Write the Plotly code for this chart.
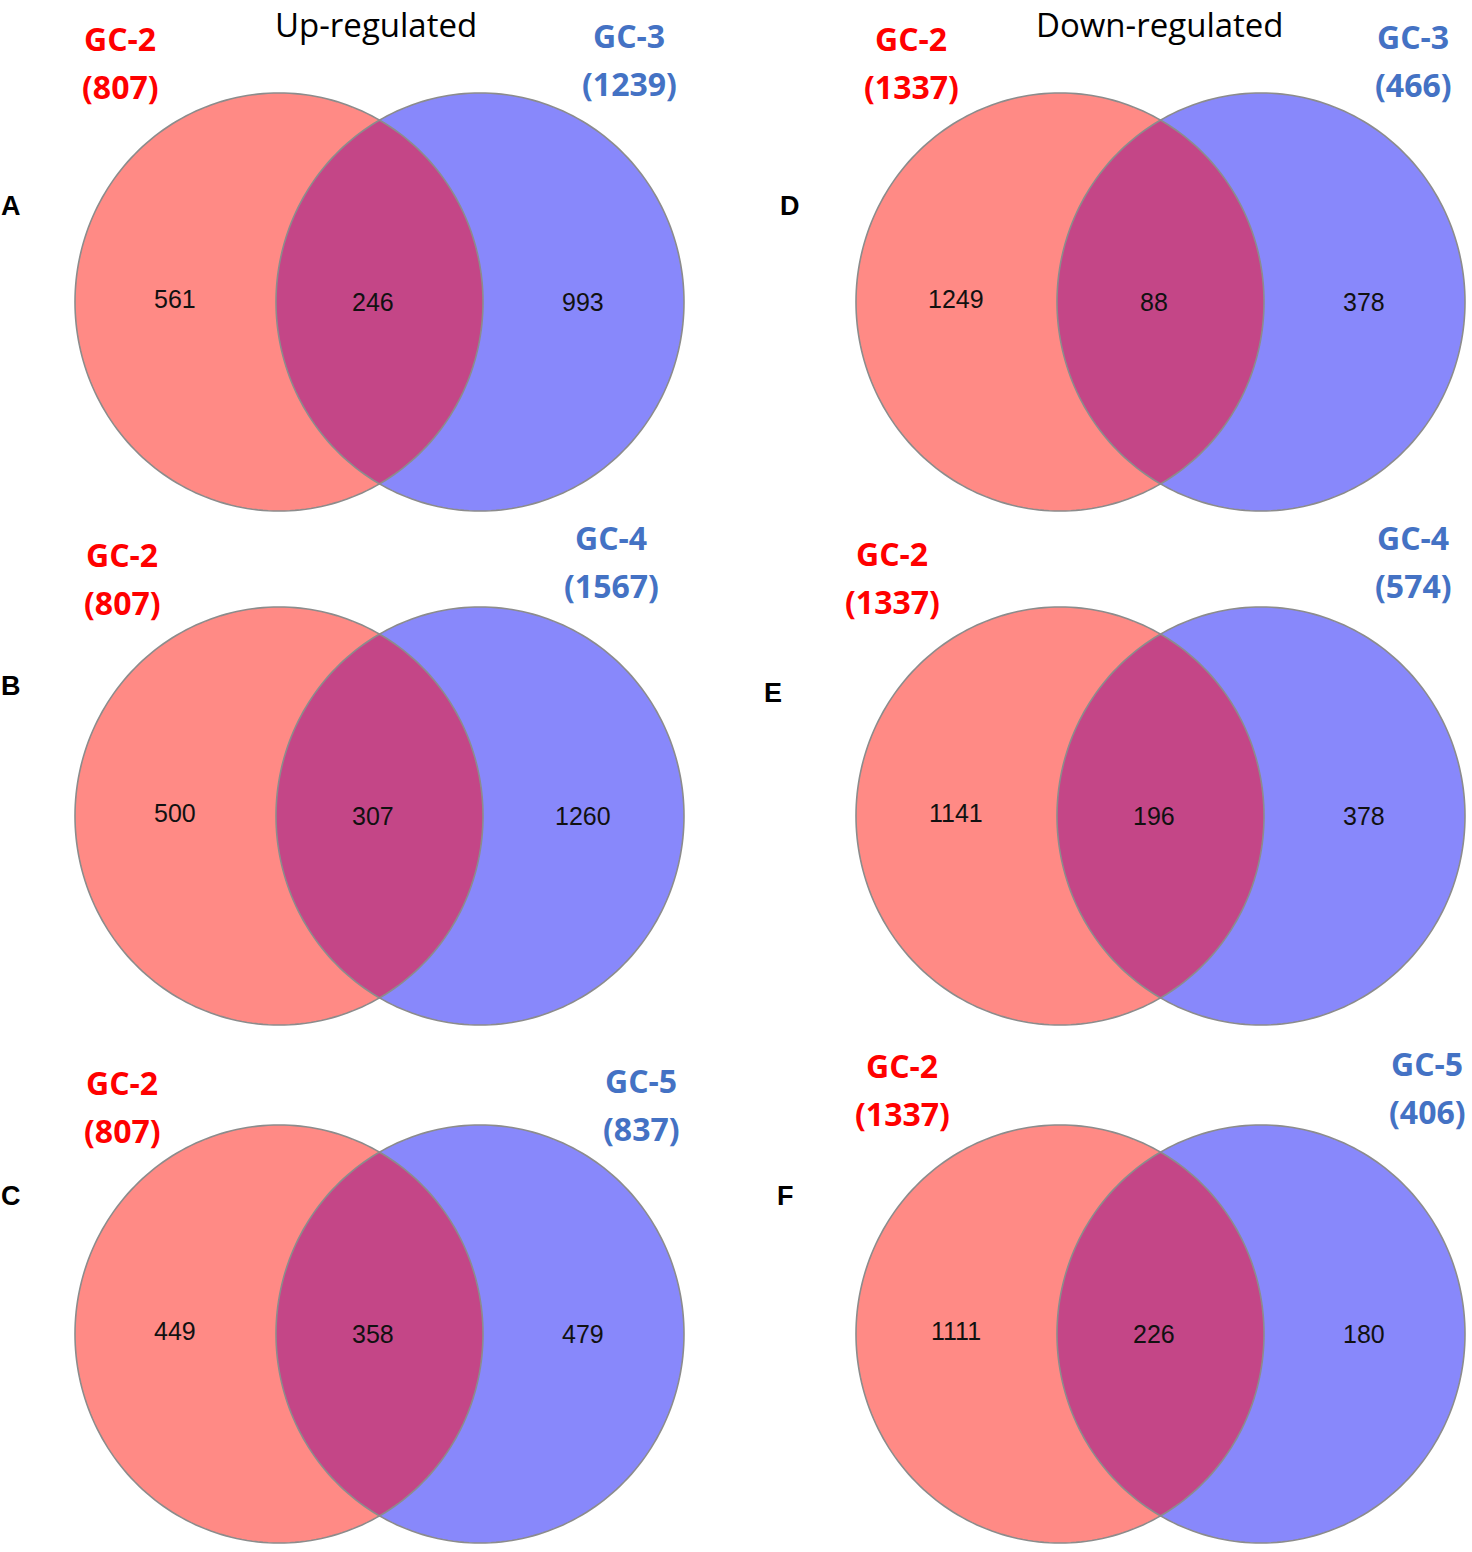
"""Six two-set Venn diagrams: GC-2 against GC-3/4/5, up- and down-regulated genes."""
import numpy as np
import plotly.graph_objects as go

# ---- data ----
PANELS = ["A", "B", "C", "D", "E", "F"]
TITLES = ["Up-regulated", "Down-regulated"]
LEFT_SET = ["GC-2", "GC-2", "GC-2", "GC-2", "GC-2", "GC-2"]
RIGHT_SET = ["GC-3", "GC-4", "GC-5", "GC-3", "GC-4", "GC-5"]
LEFT_ONLY = [561, 500, 449, 1249, 1141, 1111]
SHARED = [246, 307, 358, 88, 196, 226]
RIGHT_ONLY = [993, 1260, 479, 378, 378, 180]

# ---- layout (pixel space, y down) ----
W, H = 1472, 1552
COL_X = [279, 1060]          # centre of the left circle in each column
ROW_Y = [302, 816, 1334]     # circle centre row
SEP = 201                    # distance between circle centres
RX, RY = 204, 209
TITLE_POS = [(376, 0), (1160, 0)]
LEFT_LBL = [(120, 38), (122, 554), (122, 1082), (911, 38), (892, 553), (902, 1065)]
RIGHT_LBL = [(629, 35), (611, 537), (641, 1080), (1413, 36), (1413, 537), (1427, 1063)]
LETTER_POS = [(11, 206), (11, 686), (11, 1196), (790, 206), (773, 693), (785, 1196)]
LINE_GAP = 48

RED_FILL = "#FF8A85"
BLUE_FILL = "#8888FB"
MIX_FILL = "#C44687"
EDGE = "#8C8C8C"
RED_TXT = "#FF0000"
BLUE_TXT = "#4472C4"


def ellipse_path(cx, cy, t):
    xs = cx + RX * np.cos(t)
    ys = cy + RY * np.sin(t)
    return xs, ys


def to_path(xs, ys):
    pts = [f"{x:.2f},{y:.2f}" for x, y in zip(xs, ys)]
    return "M " + " L ".join(pts) + " Z"


fig = go.Figure()
shapes, notes = [], []
full = np.linspace(0, 2 * np.pi, 241)

for i, p in enumerate(PANELS):
    col, row = divmod(i, 3)
    cxl = COL_X[col]
    cxr = cxl + SEP
    cy = ROW_Y[row]

    # circle fills
    for cx, fill in [(cxl, RED_FILL), (cxr, BLUE_FILL)]:
        xs, ys = ellipse_path(cx, cy, full)
        shapes.append(dict(type="path", path=to_path(xs, ys), xref="x", yref="y",
                           fillcolor=fill, line=dict(width=0)))

    # lens = right arc of left circle + left arc of right circle
    a = np.arccos((SEP / 2) / RX)
    t1 = np.linspace(-a, a, 80)
    t2 = np.linspace(np.pi - a, np.pi + a, 80)
    x1, y1 = ellipse_path(cxl, cy, t1)
    x2, y2 = ellipse_path(cxr, cy, t2)
    shapes.append(dict(type="path", path=to_path(np.r_[x1, x2], np.r_[y1, y2]),
                       xref="x", yref="y", fillcolor=MIX_FILL, line=dict(width=0)))

    # outlines
    for cx in (cxl, cxr):
        xs, ys = ellipse_path(cx, cy, full)
        shapes.append(dict(type="path", path=to_path(xs, ys), xref="x", yref="y",
                           fillcolor="rgba(0,0,0,0)", line=dict(color=EDGE, width=1.6)))

    # region counts
    for x, y, v in [(cxl - 104, cy - 3, LEFT_ONLY[i]), (cxl + SEP / 2 - 7, cy, SHARED[i]),
                    (cxr + 103, cy, RIGHT_ONLY[i])]:
        notes.append(dict(x=x, y=y, text=str(v), showarrow=False, xref="x", yref="y",
                          font=dict(family="Liberation Sans, Arial", size=25, color="#111")))

    # set labels with totals
    tot_l = LEFT_ONLY[i] + SHARED[i]
    tot_r = RIGHT_ONLY[i] + SHARED[i]
    for (lx, ly), name, tot, colr in [(LEFT_LBL[i], LEFT_SET[i], tot_l, RED_TXT),
                                       (RIGHT_LBL[i], RIGHT_SET[i], tot_r, BLUE_TXT)]:
        for k, txt in enumerate([name, f"({tot})"]):
            notes.append(dict(x=lx, y=ly + k * LINE_GAP, text=f"<b>{txt}</b>", showarrow=False,
                              xref="x", yref="y",
                              font=dict(family="Open Sans", size=32, color=colr)))

    lx, ly = LETTER_POS[i]
    notes.append(dict(x=lx, y=ly, text=f"<b>{p}</b>", showarrow=False, xref="x", yref="y",
                      font=dict(family="Liberation Sans, Arial", size=27, color="black")))

for (tx, ty), t in zip(TITLE_POS, TITLES):
    notes.append(dict(x=tx, y=ty, text=t, showarrow=False, xref="x", yref="y", yanchor="top",
                      font=dict(family="Open Sans", size=33, color="black")))

fig.update_layout(
    width=W, height=H, margin=dict(l=0, r=0, t=0, b=0),
    paper_bgcolor="white", plot_bgcolor="white",
    xaxis=dict(range=[0, W], visible=False, fixedrange=True),
    yaxis=dict(range=[H, 0], visible=False, fixedrange=True),
    shapes=shapes, annotations=notes, showlegend=False,
)
# drop the default page margin so the figure sits flush in the window
fig.write_html("out.html", config={"displayModeBar": False},
               post_script="document.body.style.margin='0';")
